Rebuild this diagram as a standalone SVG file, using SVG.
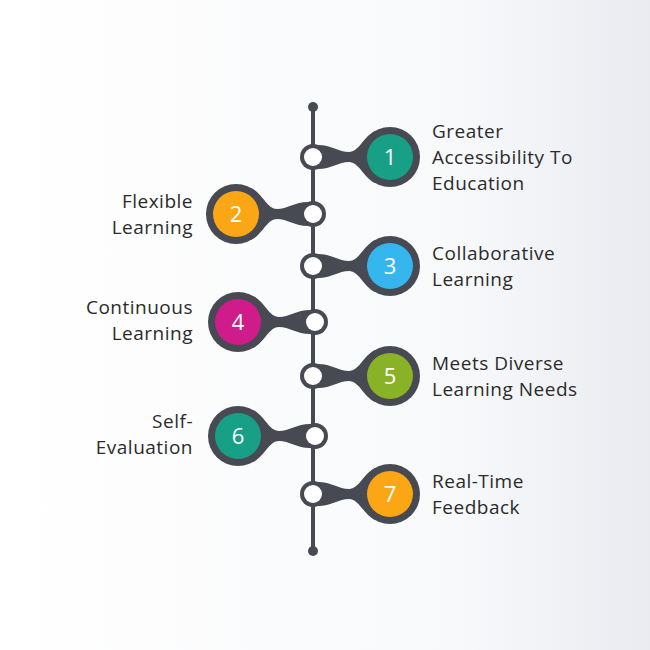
<svg xmlns="http://www.w3.org/2000/svg" width="650" height="650" viewBox="0 0 650 650">
<defs>
<linearGradient id="bg" x1="0" y1="0" x2="1" y2="0"><stop offset="0" stop-color="#ffffff"/><stop offset="0.7" stop-color="#f8f9fb"/><stop offset="1" stop-color="#e9ebf0"/></linearGradient>
<g id="node"><path d="M5,-12 C18,-12 26,-5 36,-5 C46,-5 50,-20 62,-26 L62,26 C50,20 46,5 36,5 C26,5 18,12 5,12 Z" fill="#474a52"/><circle cx="0" cy="0" r="13" fill="#474a52"/><circle cx="0" cy="0" r="9" fill="#fff"/><circle cx="77" cy="0" r="30" fill="#474a52"/></g>
</defs>
<style>.t{font-family:"Open Sans",sans-serif;font-size:19px;letter-spacing:0.5px;fill:#2b2b2b}.n{font-family:"Open Sans",sans-serif;font-size:22px;fill:#fff;text-anchor:middle}.l{text-anchor:end}</style>
<rect width="650" height="650" fill="url(#bg)"/>
<g id="connectors"><line x1="313" y1="107" x2="313" y2="551" stroke="#474a52" stroke-width="4"/><circle cx="313" cy="107" r="5" fill="#474a52"/><circle cx="313" cy="551" r="5" fill="#474a52"/></g>
<g id="n1"><use href="#node" transform="translate(313,157)"/><circle cx="390" cy="157" r="23" fill="#17a085"/><text class="n" x="390" y="165">1</text><text class="t" x="432" y="138">Greater</text><text class="t" x="432" y="164">Accessibility To</text><text class="t" x="432" y="190">Education</text></g>
<g id="n2"><use href="#node" transform="translate(313,214) scale(-1,1)"/><circle cx="236" cy="214" r="23" fill="#fba614"/><text class="n" x="236" y="222">2</text><text class="t l" x="193" y="208">Flexible</text><text class="t l" x="193" y="234">Learning</text></g>
<g id="n3"><use href="#node" transform="translate(313,266)"/><circle cx="390" cy="266" r="23" fill="#36b6ee"/><text class="n" x="390" y="274">3</text><text class="t" x="432" y="260">Collaborative</text><text class="t" x="432" y="286">Learning</text></g>
<g id="n4"><use href="#node" transform="translate(315,322) scale(-1,1)"/><circle cx="238" cy="322" r="23" fill="#d01b8a"/><text class="n" x="238" y="330">4</text><text class="t l" x="193" y="314">Continuous</text><text class="t l" x="193" y="340">Learning</text></g>
<g id="n5"><use href="#node" transform="translate(313,376)"/><circle cx="390" cy="376" r="23" fill="#8ab227"/><text class="n" x="390" y="384">5</text><text class="t" x="432" y="370">Meets Diverse</text><text class="t" x="432" y="396">Learning Needs</text></g>
<g id="n6"><use href="#node" transform="translate(315,436) scale(-1,1)"/><circle cx="238" cy="436" r="23" fill="#17a085"/><text class="n" x="238" y="444">6</text><text class="t l" x="193" y="428">Self-</text><text class="t l" x="193" y="454">Evaluation</text></g>
<g id="n7"><use href="#node" transform="translate(313,494)"/><circle cx="390" cy="494" r="23" fill="#fba614"/><text class="n" x="390" y="502">7</text><text class="t" x="432" y="488">Real-Time</text><text class="t" x="432" y="514">Feedback</text></g>
</svg>
